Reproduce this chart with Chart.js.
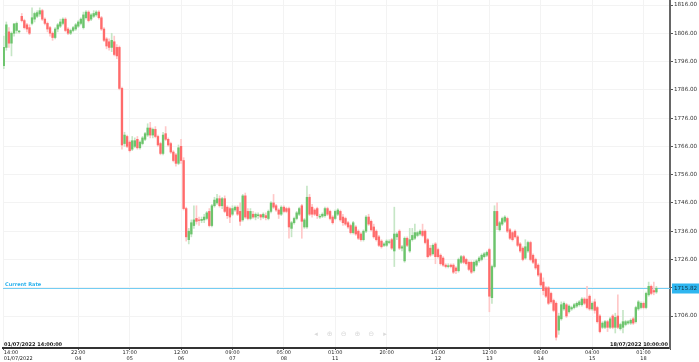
<!DOCTYPE html>
<html>
<head>
<meta charset="utf-8">
<script src="https://cdn.jsdelivr.net/npm/chart.js@4"></script>
<style>
  html, body { margin: 0; padding: 0; background: #fff; }
  #wrap { width: 699px; height: 362px; }
</style>
</head>
<body>
<div id="wrap"><canvas id="chart" width="699" height="362"></canvas></div>
<script>
// hourly candles, 01/07/2022 14:00 -> 18/07/2022 10:00
const opens = [
  1794.5, 1801, 1806.5, 1802.5, 1806, 1807, 1806.5, 1812, 1810.5, 1809,
  1808, 1809.5, 1811, 1812, 1812.8, 1814, 1811, 1809.5, 1808, 1806,
  1804.5, 1807.5, 1808.5, 1809.5, 1811, 1807.5, 1806, 1807, 1807.5, 1808.5,
  1809.5, 1808, 1811.5, 1813.5, 1811, 1812, 1812.5, 1813.5, 1811.5, 1807.5,
  1804, 1803, 1801, 1803, 1801, 1801, 1786.5, 1767, 1769.5, 1767.5,
  1765, 1766, 1768.5, 1765.5, 1767, 1768.5, 1770, 1772.5, 1770, 1772,
  1769.5, 1767, 1763.5, 1770.5, 1768.5, 1767, 1764, 1763, 1760, 1766,
  1761, 1744, 1733, 1735, 1738, 1740.5, 1740, 1739.8, 1740, 1740.5,
  1743, 1738, 1745, 1746, 1747.5, 1745, 1747.5, 1744.5, 1744, 1742,
  1743.5, 1744.5, 1743, 1740, 1748.5, 1743, 1740.5, 1742, 1741, 1741.5,
  1741.8, 1741, 1741.5, 1740.5, 1743, 1746, 1745, 1743.5, 1742, 1744.5,
  1744, 1744, 1737, 1739, 1740.5, 1742, 1745, 1737.5, 1737.5, 1748,
  1744.5, 1743.5, 1744, 1741, 1741.3, 1741.5, 1744, 1743, 1741, 1740.5,
  1742, 1743, 1741, 1740.5, 1739, 1738, 1735.5, 1737.5, 1736, 1735,
  1733, 1736, 1741, 1739.5, 1737.5, 1736, 1734, 1732.5, 1731, 1731,
  1732, 1733, 1729, 1734, 1736, 1730, 1725.5, 1733.5, 1729, 1733,
  1733.5, 1734.5, 1735, 1736, 1736, 1733, 1730, 1728, 1731.5, 1729.5,
  1727.5, 1726.5, 1724, 1723.5, 1724, 1724, 1723, 1722, 1725, 1727,
  1726, 1725, 1725, 1722, 1724, 1725.5, 1726, 1727, 1727.5, 1729.5,
  1712.5, 1723.5, 1743, 1736.5, 1738.5, 1739.5, 1740.5, 1736.5, 1735.5, 1736,
  1734, 1731.5, 1730, 1726.5, 1729, 1732, 1727.5, 1726, 1724, 1721,
  1718, 1716, 1716, 1714, 1711.5, 1710.5, 1701, 1705, 1708.5, 1710,
  1707.5, 1708.5, 1709, 1709.5, 1710, 1710, 1712, 1712, 1713, 1708.5,
  1711, 1709, 1706, 1702, 1702, 1704, 1702, 1706, 1702, 1706,
  1701.5, 1702, 1703, 1703.5, 1703.5, 1705, 1704, 1708.5, 1709, 1710.5,
  1709, 1713.5, 1716.5, 1715, 1714.5
];
const highs = [
  1805, 1810, 1808, 1806.5, 1809.5, 1810, 1807, 1813, 1811, 1809.5,
  1809, 1815, 1813.5, 1814, 1815, 1814.5, 1811.5, 1810, 1808.5, 1806.5,
  1808, 1809.5, 1811, 1811.5, 1811.5, 1808, 1807.5, 1808.5, 1809.5, 1810.5,
  1811.5, 1813.5, 1814, 1814, 1813, 1814, 1814, 1814, 1812, 1808,
  1804.5, 1804, 1806, 1805, 1802, 1801.5, 1787, 1771, 1770, 1768,
  1769.5, 1769, 1769.5, 1768, 1769.5, 1771, 1774, 1774.5, 1772.5, 1773,
  1770, 1767.5, 1771, 1773, 1769, 1767.5, 1764.5, 1763.5, 1766.5, 1768.5,
  1762, 1744.5, 1737, 1740, 1745, 1745, 1741, 1741, 1742, 1743,
  1744, 1745.5, 1748, 1749, 1748.5, 1748, 1748.5, 1745, 1744.5, 1745,
  1745, 1745, 1746, 1749, 1749.5, 1744, 1744, 1743, 1742.5, 1742.5,
  1742, 1742.5, 1742.5, 1743.5, 1746.5, 1749, 1745.5, 1744, 1745, 1745,
  1744.5, 1744.5, 1739.5, 1741, 1743, 1744.5, 1745.5, 1740.5, 1752, 1749,
  1745.5, 1744, 1744.5, 1742, 1742.5, 1744.5, 1744.5, 1743.5, 1741.5, 1743.5,
  1744, 1743.5, 1742, 1741, 1739.5, 1738.5, 1739.5, 1738, 1736.5, 1735.5,
  1736.5, 1741.5, 1742, 1740, 1738.5, 1736.5, 1734.5, 1733, 1732, 1733,
  1733, 1733.5, 1744.5, 1735.5, 1736.5, 1731, 1734, 1734, 1737, 1737,
  1738.5, 1736, 1736.5, 1738.5, 1736.5, 1733.5, 1731, 1731.5, 1732, 1730,
  1728, 1727, 1724.5, 1724.5, 1724.5, 1724.5, 1723.5, 1726.5, 1727.5, 1727.5,
  1726.5, 1725.5, 1725.5, 1725.5, 1726, 1727, 1728, 1728.5, 1729, 1730,
  1724, 1745, 1746, 1739.5, 1741, 1741.5, 1741, 1737, 1736, 1736.5,
  1734.5, 1732, 1730.5, 1733, 1732.5, 1732.5, 1728, 1726.5, 1724.5, 1721.5,
  1719.5, 1716.5, 1716.5, 1714.5, 1712, 1711, 1707, 1711, 1711, 1710.5,
  1710, 1709.5, 1710.5, 1711, 1711.5, 1712.5, 1712.5, 1716.5, 1713.5, 1711,
  1712, 1709.5, 1706.5, 1704, 1704.5, 1704.5, 1705.5, 1706.5, 1707, 1713.5,
  1703.5, 1708, 1704.5, 1704.5, 1705, 1705.5, 1709.5, 1711.5, 1711, 1711,
  1714.5, 1718, 1717, 1718, 1716.5
];
const lows = [
  1793.5, 1800, 1801, 1798, 1805, 1806, 1806, 1810, 1807.5, 1806.5,
  1805.5, 1809, 1810, 1811.5, 1812, 1810.5, 1809, 1806.5, 1805, 1803.5,
  1804, 1806.5, 1808, 1809, 1806.5, 1805.5, 1805.5, 1806.5, 1807, 1808,
  1809, 1807.5, 1811, 1810, 1810.5, 1811.5, 1812, 1811, 1807, 1803,
  1800.5, 1800, 1799.5, 1798, 1797, 1786, 1765, 1766, 1765.5, 1764,
  1764.5, 1765.5, 1765, 1765, 1766.5, 1768, 1769.5, 1769, 1769, 1769,
  1766, 1763, 1763, 1768, 1766, 1763.5, 1760.5, 1759, 1759.5, 1760,
  1743.5, 1732.5, 1731.5, 1734, 1737, 1738.5, 1738, 1739, 1739, 1740,
  1737.5, 1737.5, 1744.5, 1745.5, 1744.5, 1744, 1742.5, 1740.5, 1739, 1741.5,
  1743, 1741.5, 1738, 1739.5, 1740.5, 1740, 1740, 1740.5, 1740, 1740.5,
  1740, 1740.5, 1740, 1740, 1742.5, 1744, 1743, 1740.5, 1741.5, 1742.5,
  1742.5, 1733.5, 1734, 1738.5, 1740, 1741.5, 1733.5, 1737, 1737, 1741.5,
  1741, 1741.5, 1740.5, 1740.5, 1740.8, 1741, 1741.5, 1740, 1738.5, 1740,
  1741.5, 1739.5, 1738, 1738, 1737, 1735, 1735, 1734.5, 1733, 1732.5,
  1732.5, 1735.5, 1738, 1736, 1733.5, 1732.5, 1730.5, 1730, 1730.5, 1730.5,
  1731.5, 1729.5, 1723.5, 1733, 1729.5, 1729, 1725, 1730.5, 1728.5, 1732.5,
  1733, 1734, 1734.5, 1734, 1731.5, 1726.5, 1727, 1727.5, 1724.5, 1726.5,
  1724, 1723.5, 1723, 1723, 1723, 1721, 1721, 1721.5, 1724.5, 1724.5,
  1724, 1722, 1721, 1721.5, 1723.5, 1725, 1725.5, 1726.5, 1727, 1707.5,
  1710.5, 1723, 1736.5, 1736, 1738, 1739, 1735.5, 1733, 1732.5, 1733.5,
  1730.5, 1728.5, 1725.5, 1726, 1728.5, 1725.5, 1724.5, 1722.5, 1720, 1716.5,
  1713.5, 1712.5, 1710, 1710.5, 1707.5, 1697.5, 1699.5, 1704.5, 1708, 1705.5,
  1707, 1708, 1708.5, 1709, 1709.5, 1709.5, 1710, 1708.5, 1708, 1708,
  1707, 1703.5, 1700, 1701.5, 1701.5, 1700.5, 1701.5, 1701.5, 1700, 1701.5,
  1701, 1700, 1702.5, 1703, 1703, 1703, 1703.5, 1708, 1708.5, 1708.5,
  1708.5, 1713, 1713.5, 1713.5, 1714
];
const closes = [
  1801, 1809, 1802.5, 1806, 1809.3, 1809.5, 1806.8, 1810.5, 1808, 1807.5,
  1806, 1811.5, 1813, 1813.3, 1814, 1811, 1809.5, 1807.5, 1806, 1804.5,
  1807.5, 1809, 1810, 1811, 1807, 1806, 1807, 1808, 1809, 1810,
  1811, 1812.5, 1813.5, 1810.5, 1812.5, 1813, 1813.5, 1811.5, 1807.5, 1803.5,
  1801.5, 1801, 1803.5, 1798.5, 1798, 1786.5, 1766.5, 1770, 1766, 1764.5,
  1768, 1768, 1765.5, 1767.5, 1769, 1770.5, 1772.5, 1770, 1772, 1769.5,
  1766.5, 1763.5, 1770, 1768.5, 1766.5, 1764, 1761, 1760, 1765.5, 1761,
  1744, 1734, 1736, 1739, 1740, 1739.5, 1739.8, 1740.2, 1741, 1742.5,
  1738, 1745, 1747, 1747.5, 1745, 1747.5, 1743, 1741.5, 1741, 1744,
  1744.5, 1742, 1739.5, 1748.5, 1741, 1740.5, 1743, 1741, 1742, 1741.8,
  1741, 1742, 1740.8, 1743, 1746, 1744.5, 1743.5, 1742, 1744.5, 1743,
  1743, 1737.5, 1739, 1740.5, 1742.5, 1744, 1739.5, 1740, 1748, 1742,
  1742, 1742, 1741.5, 1741.3, 1742, 1744, 1742, 1740.5, 1739, 1743,
  1743.5, 1740, 1739, 1738.5, 1737.5, 1735.5, 1739, 1735, 1733.5, 1733,
  1736, 1741, 1738.5, 1736.5, 1734, 1733, 1731, 1730.5, 1731.5, 1732.5,
  1732.3, 1730, 1735, 1735, 1730, 1730.5, 1733.5, 1731, 1733, 1734.5,
  1735.5, 1735.5, 1736, 1734.5, 1732, 1727, 1727.5, 1731, 1727, 1727,
  1724.5, 1724, 1723.5, 1723.8, 1723.5, 1721.5, 1722, 1726, 1727, 1725,
  1724.5, 1722.5, 1721.5, 1725, 1725.5, 1726.5, 1727.5, 1728, 1728.5, 1713,
  1723.5, 1743, 1738, 1739, 1740.5, 1741, 1736, 1733.5, 1733, 1734,
  1731, 1729, 1726, 1730.5, 1732, 1726, 1725, 1723, 1720.5, 1717,
  1715, 1713, 1710.5, 1711, 1708, 1698.5, 1706, 1710, 1710.5, 1706,
  1709.5, 1709, 1710, 1710.5, 1711, 1712, 1710.5, 1709, 1708.5, 1710.5,
  1708, 1704, 1700.5, 1703.5, 1704, 1702, 1705, 1702, 1705.5, 1702,
  1703, 1704, 1704, 1704, 1704.5, 1703.5, 1709, 1711, 1710.5, 1709,
  1714, 1716.5, 1714, 1714.5, 1715.82
];

// x axis labels (candle index -> time / day)
const xTickIdx = [0, 29, 49, 69, 89, 109, 129, 149, 169, 189, 209, 229, 249];
const xTickTime = ['14:00', '22:00', '17:00', '12:00', '09:00', '05:00', '01:00', '20:00', '16:00', '12:00', '08:00', '04:00', '01:00'];
const xTickDay = ['01/07/2022', '04', '05', '06', '07', '08', '11', '', '12', '13', '14', '15', '18'];
const yTicks = [1706, 1716, 1726, 1736, 1746, 1756, 1766, 1776, 1786, 1796, 1806, 1816];

const currentRate = 1715.82;
const startStamp = '01/07/2022 14:00:00';
const endStamp = '18/07/2022 10:00:00';

const UP = '#6cc46c', UP_WICK = '#c6e6c6';
const DOWN = '#ff6b6b', DOWN_WICK = '#ffc8c8';

const idx = opens.map((_, i) => i);
const isUp = idx.map(i => closes[i] >= opens[i]);
const X_MAX = 259.3;

const overlay = {
  id: 'overlay',
  beforeDatasetsDraw(chart) {
    const { ctx, chartArea: a, scales: { y } } = chart;
    const yy = Math.round(y.getPixelForValue(currentRate)) + 0.5;
    ctx.save();
    ctx.strokeStyle = '#74cdf3';
    ctx.lineWidth = 1.2;
    ctx.beginPath();
    ctx.moveTo(a.left, yy);
    ctx.lineTo(a.right, yy);
    ctx.stroke();
    ctx.restore();
  },
  afterDraw(chart) {
    const { ctx, chartArea: a, scales: { y } } = chart;
    const yy = Math.round(y.getPixelForValue(currentRate)) + 0.5;
    ctx.save();
    ctx.fillStyle = '#2eb3ee';
    ctx.font = 'bold 5px "DejaVu Sans"';
    ctx.textBaseline = 'bottom';
    ctx.textAlign = 'left';
    ctx.fillText('Current Rate', 5, yy - 1);

    // price box on the axis
    ctx.fillStyle = '#2fb6f0';
    ctx.fillRect(a.right + 2, yy - 5, chart.width - a.right - 2, 10);
    ctx.fillStyle = '#10303f';
    ctx.font = '5.6px "DejaVu Sans"';
    ctx.textBaseline = 'middle';
    ctx.fillText(currentRate.toFixed(2), a.right + 4, yy);

    // first / last candle stamps
    ctx.fillStyle = '#222';
    ctx.font = 'bold 5px "DejaVu Sans"';
    ctx.textBaseline = 'alphabetic';
    ctx.fillText(startStamp, 4, a.bottom - 2);
    ctx.textAlign = 'right';
    ctx.fillText(endStamp, a.right - 2, a.bottom - 2);

    // faint zoom toolbar
    ctx.fillStyle = '#dadada';
    ctx.font = '7px "DejaVu Sans"';
    ctx.textAlign = 'center';
    ctx.textBaseline = 'middle';
    ['◂', '⊕', '⊖', '⊕', '⊖', '▸'].forEach((g, k) => {
      ctx.fillText(g, 316 + k * 13.8, 334);
    });
    ctx.restore();
  }
};

new Chart(document.getElementById('chart'), {
  type: 'bar',
  data: {
    datasets: [
      {
        label: 'wick',
        data: idx.map(i => ({ x: i, y: [lows[i], highs[i]] })),
        backgroundColor: idx.map(i => isUp[i] ? UP_WICK : DOWN_WICK),
        barThickness: 1,
        grouped: false,
        order: 2
      },
      {
        label: 'body',
        data: idx.map(i => ({ x: i, y: [opens[i], closes[i]] })),
        backgroundColor: idx.map(i => isUp[i] ? UP : DOWN),
        barThickness: 1.7,
        grouped: false,
        order: 1
      }
    ]
  },
  options: {
    responsive: false,
    animation: false,
    devicePixelRatio: 1,
    layout: { padding: { left: 3, top: 0, right: 0, bottom: 0 } },
    plugins: { legend: { display: false }, tooltip: { enabled: false } },
    scales: {
      x: {
        type: 'linear',
        min: -0.3,
        max: X_MAX,
        offset: false,
        afterBuildTicks: (s) => {
          s.ticks = xTickIdx.map(v => ({ value: v })).concat([{ value: X_MAX }]);
        },
        afterFit: (s) => {
          s.height = 14;
          s.paddingLeft = 0;
          s.paddingRight = 0;
        },
        grid: { color: '#f3f3f3', offset: false, tickColor: '#555', tickLength: 2 },
        border: { color: '#333', width: 2 },
        ticks: {
          autoSkip: false,
          maxRotation: 0,
          align: 'inner',
          padding: 0,
          color: '#222',
          font: { family: 'DejaVu Sans', size: 5, lineHeight: 1.2 },
          callback: (v) => {
            const k = xTickIdx.indexOf(v);
            if (k < 0) return '';
            return xTickDay[k] ? [xTickTime[k], xTickDay[k]] : xTickTime[k];
          }
        }
      },
      y: {
        position: 'right',
        min: 1694.69,
        max: 1817.77,
        afterBuildTicks: (s) => { s.ticks = yTicks.map(v => ({ value: v })); },
        afterFit: (s) => {
          s.width = 29;
          s.paddingTop = 0;
          s.paddingBottom = 0;
        },
        grid: { color: '#f3f3f3', tickColor: '#555', tickLength: 3 },
        border: { color: '#666', width: 2 },
        ticks: {
          padding: 1,
          color: '#333',
          font: { family: 'DejaVu Sans', size: 5.6 },
          callback: (v) => Number(v).toFixed(2)
        }
      }
    }
  },
  plugins: [overlay]
});
</script>
</body>
</html>
